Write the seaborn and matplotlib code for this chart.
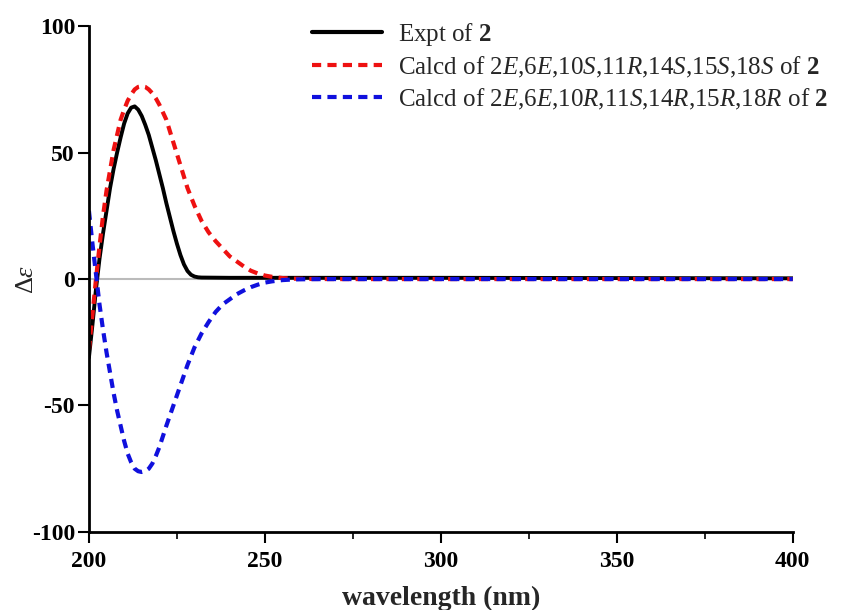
import numpy as np
import pandas as pd
import matplotlib
matplotlib.use("Agg")
import matplotlib.pyplot as plt
import seaborn as sns

# Experimental CD of 2
expt_wl = [200, 201, 202, 203, 204, 205, 206, 207, 208, 209, 210, 211, 212, 213, 214, 215, 216, 217, 218, 219, 220, 221, 222, 223, 224, 225, 226, 227, 228, 229, 230, 231, 232, 240, 260, 300, 350, 400]
expt_de = [-31, -18, -4, 8, 18, 27, 36, 43.5, 50, 56, 61.5, 65.5, 67.8, 68.3, 67, 64.5, 61, 57, 52, 47, 41.5, 36, 30, 24.5, 19, 14, 9.5, 5.8, 3.2, 1.7, 1.0, 0.7, 0.6, 0.5, 0.5, 0.5, 0.4, 0.3]

# Calcd 2E,6E,10S,11R,14S,15S,18S
red_wl = [200, 201, 202, 203, 204, 205, 206, 207, 208, 209, 210, 211, 212, 213, 214, 215, 216, 217, 218, 219, 220, 222, 224, 226, 228, 230, 232, 234, 236, 238, 240, 242, 244, 246, 248, 250, 252, 255, 258, 262, 270, 300, 350, 400]
red_de = [-28, -14, 0, 13, 25, 35, 43, 51, 57, 63, 67, 70.5, 73, 75, 76, 76.3, 76, 75, 73.5, 71.5, 69, 63, 54, 45, 36, 29, 23, 18.5, 15, 12, 9, 7, 5, 3.3, 2.2, 1.4, 0.9, 0.4, 0.15, 0.05, 0, 0, 0, 0]

# Calcd 2E,6E,10R,11S,14R,15R,18R
blue_wl = [200, 201, 202, 203, 204, 205, 206, 207, 208, 209, 210, 211, 212, 213, 214, 215, 216, 217, 218, 219, 220, 222, 224, 226, 228, 230, 232, 234, 236, 238, 240, 242, 244, 246, 248, 250, 252, 255, 258, 262, 270, 300, 350, 400]
blue_de = [27, 14, 2, -10, -20, -29, -37, -45, -52, -58, -64, -69, -72.5, -75, -76, -76.3, -76, -75, -73, -70, -66.5, -58, -50, -42, -34, -27, -21.5, -17, -13, -10, -8, -6, -4.5, -3.2, -2.2, -1.4, -0.9, -0.4, -0.15, -0.05, 0, 0, 0, 0]

x_ticks = [200, 250, 300, 350, 400]
y_ticks = [-100, -50, 0, 50, 100]

labels = ["Expt of $\\mathbf{2}$",
          "Calcd of 2$\\mathit{E}$,6$\\mathit{E}$,10$\\mathit{S}$,11$\\mathit{R}$,14$\\mathit{S}$,15$\\mathit{S}$,18$\\mathit{S}$ of $\\mathbf{2}$",
          "Calcd of 2$\\mathit{E}$,6$\\mathit{E}$,10$\\mathit{R}$,11$\\mathit{S}$,14$\\mathit{R}$,15$\\mathit{R}$,18$\\mathit{R}$ of $\\mathbf{2}$"]

sns.set_theme(style="ticks")
plt.rcParams['font.family'] = ['Liberation Serif', 'DejaVu Serif']
plt.rcParams['mathtext.fontset'] = 'custom'
plt.rcParams['mathtext.rm'] = 'Liberation Serif'
plt.rcParams['mathtext.it'] = 'Liberation Serif:italic'
plt.rcParams['mathtext.bf'] = 'Liberation Serif:bold'
plt.rcParams['axes.unicode_minus'] = False

fig = plt.figure(figsize=(8.47, 6.10), dpi=100)
ax = fig.add_axes([0.105, 0.128, 0.831, 0.829])

ax.axhline(0, color='#bbbbbb', lw=1.5, zorder=0)

df_e = pd.DataFrame({"wl": expt_wl, "de": expt_de})
df_r = pd.DataFrame({"wl": red_wl, "de": red_de})
df_b = pd.DataFrame({"wl": blue_wl, "de": blue_de})

sns.lineplot(data=df_e, x="wl", y="de", ax=ax, color='black', lw=2.8, label=labels[0])
sns.lineplot(data=df_r, x="wl", y="de", ax=ax, color='#ee1111', lw=3.0, label=labels[1])
sns.lineplot(data=df_b, x="wl", y="de", ax=ax, color='#1010dd', lw=3.0, label=labels[2])
ax.lines[2].set_dashes((2.2, 1.5))
ax.lines[3].set_dashes((2.2, 1.5))

ax.set_xlim(200, 400)
ax.set_ylim(-100, 100)
ax.set_xticks(x_ticks)
ax.set_xticks([225, 275, 325, 375], minor=True)
ax.set_yticks(y_ticks)
for s in ['top', 'right']:
    ax.spines[s].set_visible(False)
for s in ['left', 'bottom']:
    ax.spines[s].set_linewidth(2.0)
    ax.spines[s].set_color('black')
ax.tick_params(axis='both', which='major', direction='out', length=8, width=1.5, colors='black', labelsize=17)
ax.tick_params(axis='x', which='major', pad=6)
ax.tick_params(axis='y', which='major', pad=2)
ax.tick_params(axis='x', which='minor', direction='out', length=5, width=1.2, colors='black')
for t in ax.get_xticklabels() + ax.get_yticklabels():
    t.set_fontweight('bold')

ax.set_xlabel("wavelength (nm)", fontsize=20, fontweight='bold', labelpad=10)
ax.set_ylabel("$\\mathit{\\Delta\\varepsilon}$", fontsize=19)
ax.yaxis.set_label_coords(-0.072, 0.5)

leg = ax.legend(loc='upper left', bbox_to_anchor=(0.285, 1.055), frameon=False, fontsize=18,
                handlelength=2.8, handletextpad=0.62, labelspacing=0.27)
for h in leg.get_lines():
    h.set_linewidth(3.0)

fig.savefig("out.png", dpi=100)
